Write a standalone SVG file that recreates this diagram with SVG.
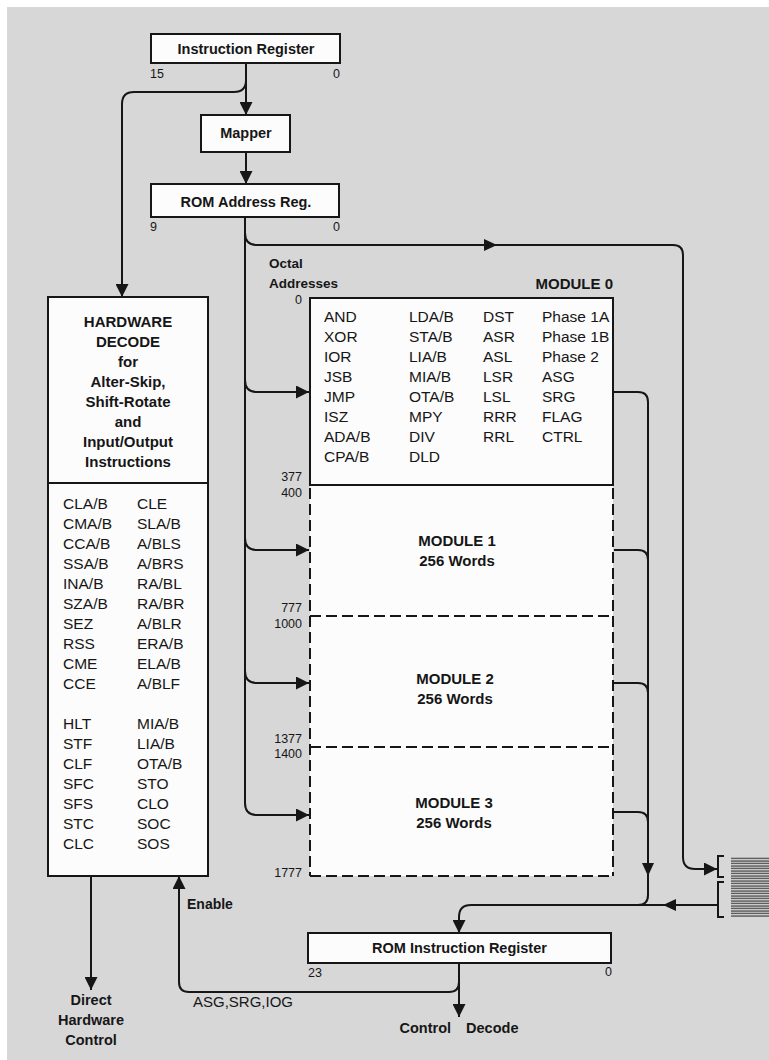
<svg xmlns="http://www.w3.org/2000/svg" width="769" height="1060" viewBox="0 0 769 1060">
<defs>
<style>
text{font-family:"Liberation Sans",Arial,sans-serif;fill:#161616}
.b{font-weight:bold}
.box{fill:#fcfcfc;stroke:#161616;stroke-width:2}
.ln{fill:none;stroke:#161616;stroke-width:2}
.dash{fill:none;stroke:#161616;stroke-width:2;stroke-dasharray:11 5}
.ah{fill:#161616}
.t14{font-size:14.5px}
.t15{font-size:15px}
.lst{font-size:15.5px}
.num{font-size:12.5px}
.mid{text-anchor:middle}
.end{text-anchor:end}
</style>
<marker id="arr" markerUnits="userSpaceOnUse" markerWidth="13" markerHeight="13" viewBox="0 0 13 13" refX="13" refY="6.5" orient="auto">
<path d="M0,0 L13,6.5 L0,13 z" fill="#161616"/>
</marker>
<pattern id="hatch" patternUnits="userSpaceOnUse" width="8" height="2.5">
<line x1="0" y1="1" x2="8" y2="1" stroke="#333" stroke-width="1.1"/>
</pattern>
</defs>

<rect x="0" y="0" width="769" height="1060" fill="#ffffff"/>
<rect x="7" y="7" width="762" height="1053" fill="#d7d7d8"/>

<g id="connectors">
<!-- IR to Mapper and to Hardware Decode -->
<path class="ln" d="M246,63 L246,115" marker-end="url(#arr)"/>
<path class="ln" d="M246,80 Q246,92 234,92 L134,92 Q122,92 122,104 L122,297" marker-end="url(#arr)"/>
<!-- Mapper to ROM Address Reg -->
<path class="ln" d="M246,152 L246,184" marker-end="url(#arr)"/>
<!-- address bus -->
<path class="ln" d="M245,217 L245,803 Q245,815 257,815 L309,815" marker-end="url(#arr)"/>
<path class="ln" d="M245,380 Q245,392 257,392 L309,392" marker-end="url(#arr)"/>
<path class="ln" d="M245,538 Q245,550 257,550 L309,550" marker-end="url(#arr)"/>
<path class="ln" d="M245,671 Q245,683 257,683 L309,683" marker-end="url(#arr)"/>
<!-- top route to bracket -->
<path class="ln" d="M245,233 Q245,245 257,245 L673,245 Q683,245 683,255 L683,857 Q683,869 695,869 L717,869" marker-end="url(#arr)"/>
<polygon class="ah" points="484,239 497,245 484,251"/>
<!-- module output bus -->
<path class="ln" d="M614,392 L638,392 Q648,392 648,402 L648,895 Q648,905 638,905"/>
<path class="ln" d="M614,550 L638,550 Q648,550 648,560"/>
<path class="ln" d="M614,683 L638,683 Q648,683 648,693"/>
<path class="ln" d="M614,812 L638,812 Q648,812 648,822"/>
<polygon class="ah" points="642,863 654,863 648,876"/>
<!-- return bus into ROM Instruction Register -->
<path class="ln" d="M717,905 L471,905 Q459,905 459,917 L459,933" marker-end="url(#arr)"/>
<polygon class="ah" points="676,899 663,905 676,911"/>
<!-- ROM IR outputs -->
<path class="ln" d="M459,963 L459,1017" marker-end="url(#arr)"/>
<path class="ln" d="M459,982 Q459,992 449,992 L189,992 Q179,992 179,982 L179,876" marker-end="url(#arr)"/>
<!-- Direct hardware control -->
<path class="ln" d="M91,876 L91,990" marker-end="url(#arr)"/>
</g>

<g id="instruction-register">
<rect class="box" x="151" y="34" width="189" height="29"/>
<text class="b t14 mid" x="246" y="54">Instruction Register</text>
<text class="num" x="150" y="78">15</text>
<text class="num" x="333" y="78">0</text>
</g>

<g id="mapper">
<rect class="box" x="201" y="115" width="89" height="37"/>
<text class="b t14 mid" x="246" y="138">Mapper</text>
</g>

<g id="rom-address-reg">
<rect class="box" x="151" y="184" width="188" height="33"/>
<text class="b t14 mid" x="246" y="207">ROM Address Reg.</text>
<text class="num" x="150" y="231">9</text>
<text class="num" x="333" y="231">0</text>
</g>

<g id="octal-addresses">
<text class="b" font-size="13.5" x="269" y="268">Octal</text>
<text class="b" font-size="13.5" x="269" y="288">Addresses</text>
</g>

<g id="hardware-decode">
<rect class="box" x="48" y="297" width="160" height="579"/>
<line class="ln" x1="48" y1="483" x2="208" y2="483"/>
<g class="b t15 mid" font-size="15.5">
<text x="128" y="327">HARDWARE</text>
<text x="128" y="347">DECODE</text>
<text x="128" y="367">for</text>
<text x="128" y="387">Alter-Skip,</text>
<text x="128" y="407">Shift-Rotate</text>
<text x="128" y="427">and</text>
<text x="128" y="447">Input/Output</text>
<text x="128" y="467">Instructions</text>
</g>
<g class="lst">
<text x="63" y="509">CLA/B</text><text x="137" y="509">CLE</text>
<text x="63" y="529">CMA/B</text><text x="137" y="529">SLA/B</text>
<text x="63" y="549">CCA/B</text><text x="137" y="549">A/BLS</text>
<text x="63" y="569">SSA/B</text><text x="137" y="569">A/BRS</text>
<text x="63" y="589">INA/B</text><text x="137" y="589">RA/BL</text>
<text x="63" y="609">SZA/B</text><text x="137" y="609">RA/BR</text>
<text x="63" y="629">SEZ</text><text x="137" y="629">A/BLR</text>
<text x="63" y="649">RSS</text><text x="137" y="649">ERA/B</text>
<text x="63" y="669">CME</text><text x="137" y="669">ELA/B</text>
<text x="63" y="689">CCE</text><text x="137" y="689">A/BLF</text>
<text x="63" y="729">HLT</text><text x="137" y="729">MIA/B</text>
<text x="63" y="749">STF</text><text x="137" y="749">LIA/B</text>
<text x="63" y="769">CLF</text><text x="137" y="769">OTA/B</text>
<text x="63" y="789">SFC</text><text x="137" y="789">STO</text>
<text x="63" y="809">SFS</text><text x="137" y="809">CLO</text>
<text x="63" y="829">STC</text><text x="137" y="829">SOC</text>
<text x="63" y="849">CLC</text><text x="137" y="849">SOS</text>
</g>
</g>

<g id="module-0">
<rect class="box" x="310" y="298" width="303" height="187"/>
<text class="b t15 end" x="613" y="289">MODULE 0</text>
<text class="num end" x="302" y="304">0</text>
<text class="num end" x="302" y="481">377</text>
<g class="lst">
<text x="324" y="322">AND</text><text x="409" y="322">LDA/B</text><text x="483" y="322">DST</text><text x="542" y="322">Phase 1A</text>
<text x="324" y="342">XOR</text><text x="409" y="342">STA/B</text><text x="483" y="342">ASR</text><text x="542" y="342">Phase 1B</text>
<text x="324" y="362">IOR</text><text x="409" y="362">LIA/B</text><text x="483" y="362">ASL</text><text x="542" y="362">Phase 2</text>
<text x="324" y="382">JSB</text><text x="409" y="382">MIA/B</text><text x="483" y="382">LSR</text><text x="542" y="382">ASG</text>
<text x="324" y="402">JMP</text><text x="409" y="402">OTA/B</text><text x="483" y="402">LSL</text><text x="542" y="402">SRG</text>
<text x="324" y="422">ISZ</text><text x="409" y="422">MPY</text><text x="483" y="422">RRR</text><text x="542" y="422">FLAG</text>
<text x="324" y="442">ADA/B</text><text x="409" y="442">DIV</text><text x="483" y="442">RRL</text><text x="542" y="442">CTRL</text>
<text x="324" y="462">CPA/B</text><text x="409" y="462">DLD</text>
</g>
</g>

<g id="modules-1-3-frame">
<rect x="310" y="486" width="303" height="390" fill="#fcfcfc"/>
<line class="dash" x1="310" y1="488" x2="310" y2="876"/>
<line class="dash" x1="613" y1="488" x2="613" y2="876"/>
<line class="dash" x1="310" y1="876" x2="613" y2="876"/>
</g>

<g id="module-1">
<text class="num end" x="302" y="497">400</text>
<text class="b t15 mid" x="457" y="546">MODULE 1</text>
<text class="b t15 mid" x="457" y="566">256 Words</text>
</g>

<g id="module-2">
<line class="dash" x1="310" y1="616" x2="613" y2="616"/>
<text class="num end" x="302" y="612">777</text>
<text class="num end" x="302" y="628">1000</text>
<text class="b t15 mid" x="455" y="684">MODULE 2</text>
<text class="b t15 mid" x="455" y="704">256 Words</text>
</g>

<g id="module-3">
<line class="dash" x1="310" y1="747" x2="613" y2="747"/>
<text class="num end" x="302" y="743">1377</text>
<text class="num end" x="302" y="758">1400</text>
<text class="b t15 mid" x="454" y="808">MODULE 3</text>
<text class="b t15 mid" x="454" y="828">256 Words</text>
<text class="num end" x="302" y="877">1777</text>
</g>

<g id="external-connector">
<path class="ln" d="M724,856 L718,856 L718,877 L724,877"/>
<path class="ln" d="M724,882 L718,882 L718,917 L724,917"/>
<rect x="731" y="857" width="38" height="60" fill="url(#hatch)"/>
</g>

<g id="rom-instruction-register">
<rect class="box" x="308" y="933" width="303" height="30"/>
<text class="b t14 mid" x="459.5" y="953">ROM Instruction Register</text>
<text class="num" x="308" y="977">23</text>
<text class="num" x="605" y="976">0</text>
</g>

<g id="labels">
<text class="b" font-size="14" x="187" y="909">Enable</text>
<text class="t15" x="193" y="1007">ASG,SRG,IOG</text>
<text class="b t14 mid" x="91" y="1005">Direct</text>
<text class="b t14 mid" x="91" y="1025">Hardware</text>
<text class="b t14 mid" x="91" y="1045">Control</text>
<text class="b t14 mid" x="459" y="1033" word-spacing="11">Control Decode</text>
</g>
</svg>
